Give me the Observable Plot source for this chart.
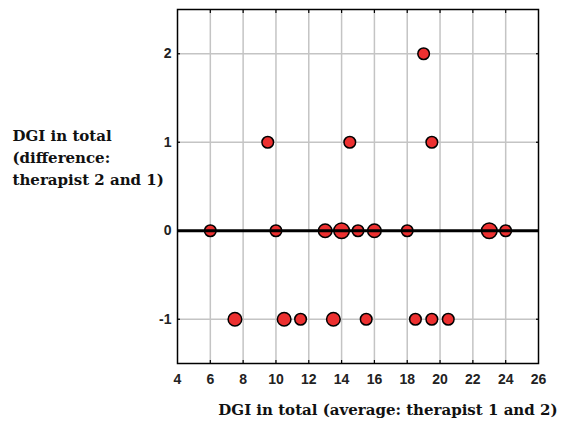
<!DOCTYPE html>
<html>
<head>
<meta charset="utf-8">
<script src="https://cdn.jsdelivr.net/npm/d3@7"></script>
<script src="https://cdn.jsdelivr.net/npm/@observablehq/plot@0.6"></script>
<style>
  html, body { margin: 0; padding: 0; background: white; }
</style>
</head>
<body>
<div id="chart"></div>
<script>
// Data
const avg  = [19, 9.5, 14.5, 19.5, 6, 10, 13, 14, 15, 16, 18, 23, 24, 7.5, 10.5, 11.5, 13.5, 15.5, 18.5, 19.5, 20.5];
const diff = [2, 1, 1, 1, 0, 0, 0, 0, 0, 0, 0, 0, 0, -1, -1, -1, -1, -1, -1, -1, -1];
const count = [1, 1, 1, 1, 1, 1, 2, 3, 1, 2, 1, 3, 1, 2, 2, 1, 2, 1, 1, 1, 1];

const xTicks = [4, 6, 8, 10, 12, 14, 16, 18, 20, 22, 24, 26];
const xGrid = [6, 8, 10, 12, 14, 16, 18, 20, 22, 24];
const yTicks = [-1, 0, 1, 2];
const yGrid = [-1, 1, 2];

const yLabel = "DGI in total\n(difference:\ntherapist 2 and 1)";
const xLabel = "DGI in total (average: therapist 1 and 2)";

const data = avg.map((a, i) => ({avg: a, diff: diff[i], n: count[i]}));

const serif = "'DejaVu Serif', 'Liberation Serif', serif";
const noLabel = () => "";

const chart = Plot.plot({
  width: 567,
  height: 427,
  marginLeft: 177,
  marginRight: 29,
  marginTop: 9,
  marginBottom: 64,
  style: {fontFamily: "'Liberation Sans', Arial, sans-serif", fontSize: "14px", fontWeight: "bold", background: "white", color: "#222"},
  x: {domain: [4, 26]},
  y: {domain: [-1.5, 2.5]},
  r: {type: "linear", domain: [1, 3], range: [5.8, 7.8]},
  marks: [
    Plot.gridX(xGrid, {stroke: "#c4c4c4", strokeOpacity: 1, strokeWidth: 1.5}),
    Plot.gridY(yGrid, {stroke: "#c4c4c4", strokeOpacity: 1, strokeWidth: 1.5}),
    // small inward ticks on all four sides
    Plot.axisX(xGrid, {anchor: "bottom", tickSize: -3, tickFormat: noLabel, label: null, stroke: "black", strokeWidth: 1.2}),
    Plot.axisX(xGrid, {anchor: "top", tickSize: -3, tickFormat: noLabel, label: null, stroke: "black", strokeWidth: 1.2}),
    Plot.axisY(yGrid, {anchor: "left", tickSize: -3, tickFormat: noLabel, label: null, stroke: "black", strokeWidth: 1.2}),
    Plot.axisY(yGrid, {anchor: "right", tickSize: -3, tickFormat: noLabel, label: null, stroke: "black", strokeWidth: 1.2}),
    Plot.axisX(xTicks, {tickSize: 0, tickPadding: 11, label: null, fontWeight: "bold"}),
    Plot.axisY(yTicks, {tickSize: 0, tickPadding: 6, label: null, fontWeight: "bold", tickFormat: d => String(d)}),
    Plot.dot(data, {x: "avg", y: "diff", r: "n", fill: "#ec3030", stroke: "black", strokeWidth: 1.5}),
    Plot.ruleY([0], {stroke: "black", strokeWidth: 3}),
    Plot.frame({stroke: "black", strokeWidth: 1.5}),
    Plot.text([yLabel], {text: d => d, frameAnchor: "left", dx: -165, dy: -31, textAnchor: "start", lineAnchor: "middle",
      fontFamily: serif, fontSize: 15, fontWeight: "bold", lineHeight: 1.47, fill: "#111"}),
    Plot.text([xLabel], {text: d => d, frameAnchor: "bottom-right", dx: 19, dy: 47, textAnchor: "end", lineAnchor: "middle",
      fontFamily: serif, fontSize: 15, fontWeight: "bold", fill: "#111"})
  ]
});
document.getElementById("chart").append(chart);
</script>
</body>
</html>
